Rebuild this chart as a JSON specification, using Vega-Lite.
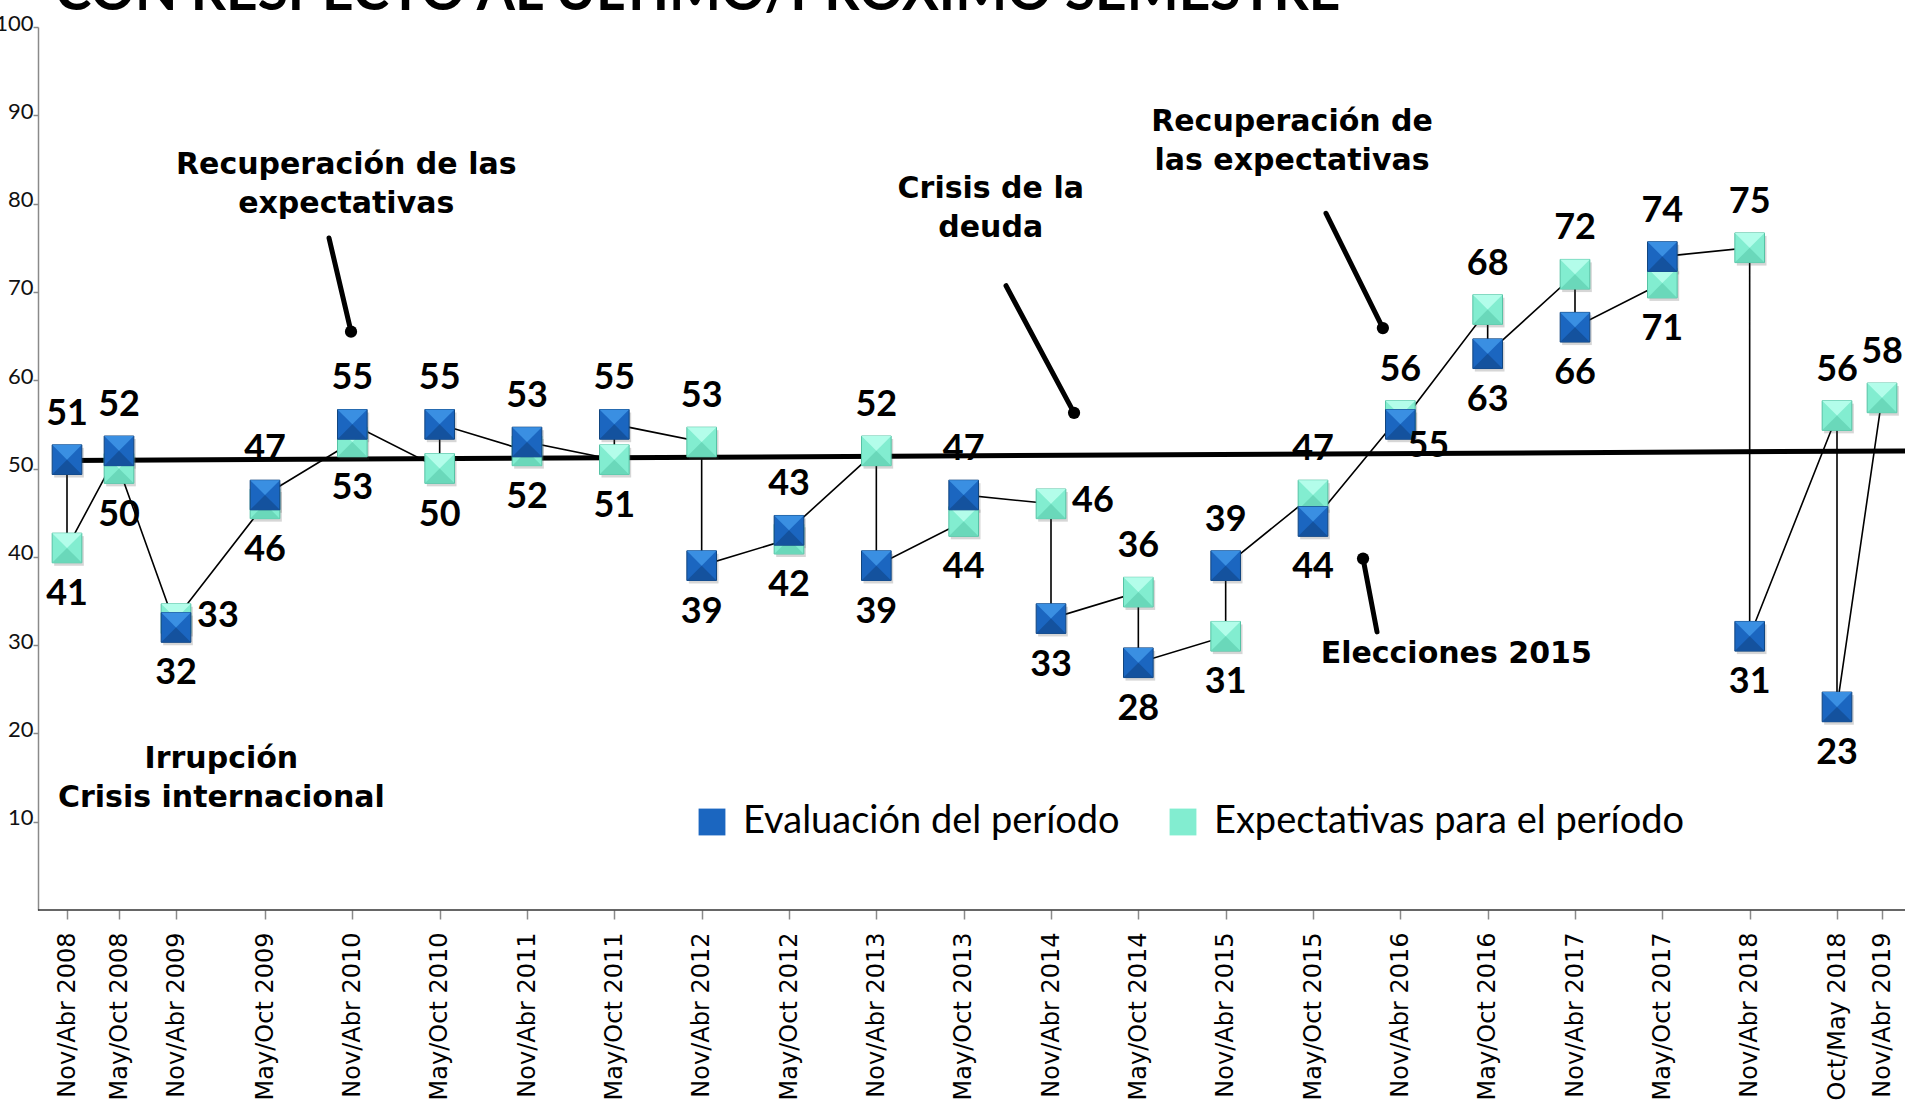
{
  "$schema": "https://vega.github.io/schema/vega-lite/v6.json",
  "width": 1867,
  "height": 883,
  "autosize": {"type": "none"},
  "padding": {"left": 38, "top": 27, "right": 0, "bottom": 197},
  "background": "white",
  "config": {"view": {"stroke": null}, "font": "Lato"},
  "datasets": {
    "puntos": [
      {"n": 1, "periodo": "Nov/Abr 2008", "serie": "Evaluación del período", "valor": 51, "paso": 1},
      {"n": 1, "periodo": "Nov/Abr 2008", "serie": "Expectativas para el período", "valor": 41, "paso": 2},
      {"n": 2, "periodo": "May/Oct 2008", "serie": "Evaluación del período", "valor": 52, "paso": 3},
      {"n": 2, "periodo": "May/Oct 2008", "serie": "Expectativas para el período", "valor": 50, "paso": 4},
      {"n": 3, "periodo": "Nov/Abr 2009", "serie": "Evaluación del período", "valor": 32, "paso": 5},
      {"n": 3, "periodo": "Nov/Abr 2009", "serie": "Expectativas para el período", "valor": 33, "paso": 6},
      {"n": 4, "periodo": "May/Oct 2009", "serie": "Expectativas para el período", "valor": 46, "paso": 7},
      {"n": 4, "periodo": "May/Oct 2009", "serie": "Evaluación del período", "valor": 47, "paso": 8},
      {"n": 5, "periodo": "Nov/Abr 2010", "serie": "Expectativas para el período", "valor": 53, "paso": 9},
      {"n": 5, "periodo": "Nov/Abr 2010", "serie": "Evaluación del período", "valor": 55, "paso": 10},
      {"n": 6, "periodo": "May/Oct 2010", "serie": "Expectativas para el período", "valor": 50, "paso": 11},
      {"n": 6, "periodo": "May/Oct 2010", "serie": "Evaluación del período", "valor": 55, "paso": 12},
      {"n": 7, "periodo": "Nov/Abr 2011", "serie": "Expectativas para el período", "valor": 52, "paso": 13},
      {"n": 7, "periodo": "Nov/Abr 2011", "serie": "Evaluación del período", "valor": 53, "paso": 14},
      {"n": 8, "periodo": "May/Oct 2011", "serie": "Expectativas para el período", "valor": 51, "paso": 15},
      {"n": 8, "periodo": "May/Oct 2011", "serie": "Evaluación del período", "valor": 55, "paso": 16},
      {"n": 9, "periodo": "Nov/Abr 2012", "serie": "Expectativas para el período", "valor": 53, "paso": 17},
      {"n": 9, "periodo": "Nov/Abr 2012", "serie": "Evaluación del período", "valor": 39, "paso": 18},
      {"n": 10, "periodo": "May/Oct 2012", "serie": "Expectativas para el período", "valor": 42, "paso": 19},
      {"n": 10, "periodo": "May/Oct 2012", "serie": "Evaluación del período", "valor": 43, "paso": 20},
      {"n": 11, "periodo": "Nov/Abr 2013", "serie": "Expectativas para el período", "valor": 52, "paso": 21},
      {"n": 11, "periodo": "Nov/Abr 2013", "serie": "Evaluación del período", "valor": 39, "paso": 22},
      {"n": 12, "periodo": "May/Oct 2013", "serie": "Expectativas para el período", "valor": 44, "paso": 23},
      {"n": 12, "periodo": "May/Oct 2013", "serie": "Evaluación del período", "valor": 47, "paso": 24},
      {"n": 13, "periodo": "Nov/Abr 2014", "serie": "Expectativas para el período", "valor": 46, "paso": 25},
      {"n": 13, "periodo": "Nov/Abr 2014", "serie": "Evaluación del período", "valor": 33, "paso": 26},
      {"n": 14, "periodo": "May/Oct 2014", "serie": "Expectativas para el período", "valor": 36, "paso": 27},
      {"n": 14, "periodo": "May/Oct 2014", "serie": "Evaluación del período", "valor": 28, "paso": 28},
      {"n": 15, "periodo": "Nov/Abr 2015", "serie": "Expectativas para el período", "valor": 31, "paso": 29},
      {"n": 15, "periodo": "Nov/Abr 2015", "serie": "Evaluación del período", "valor": 39, "paso": 30},
      {"n": 16, "periodo": "May/Oct 2015", "serie": "Expectativas para el período", "valor": 47, "paso": 31},
      {"n": 16, "periodo": "May/Oct 2015", "serie": "Evaluación del período", "valor": 44, "paso": 32},
      {"n": 17, "periodo": "Nov/Abr 2016", "serie": "Expectativas para el período", "valor": 56, "paso": 33},
      {"n": 17, "periodo": "Nov/Abr 2016", "serie": "Evaluación del período", "valor": 55, "paso": 34},
      {"n": 18, "periodo": "May/Oct 2016", "serie": "Expectativas para el período", "valor": 68, "paso": 35},
      {"n": 18, "periodo": "May/Oct 2016", "serie": "Evaluación del período", "valor": 63, "paso": 36},
      {"n": 19, "periodo": "Nov/Abr 2017", "serie": "Expectativas para el período", "valor": 72, "paso": 37},
      {"n": 19, "periodo": "Nov/Abr 2017", "serie": "Evaluación del período", "valor": 66, "paso": 38},
      {"n": 20, "periodo": "May/Oct 2017", "serie": "Expectativas para el período", "valor": 71, "paso": 39},
      {"n": 20, "periodo": "May/Oct 2017", "serie": "Evaluación del período", "valor": 74, "paso": 40},
      {"n": 21, "periodo": "Nov/Abr 2018", "serie": "Expectativas para el período", "valor": 75, "paso": 41},
      {"n": 21, "periodo": "Nov/Abr 2018", "serie": "Evaluación del período", "valor": 31, "paso": 42},
      {"n": 22, "periodo": "Oct/May 2018", "serie": "Expectativas para el período", "valor": 56, "paso": 43},
      {"n": 22, "periodo": "Oct/May 2018", "serie": "Evaluación del período", "valor": 23, "paso": 44},
      {"n": 23, "periodo": "Nov/Abr 2019", "serie": "Expectativas para el período", "valor": 58, "paso": 45}
    ],
    "notas": [
      {"n": 4.93, "valor": 83.35, "texto": "Recuperación de las\nexpectativas"},
      {"n": 12.31, "valor": 80.6, "texto": "Crisis de la\ndeuda"},
      {"n": 15.76, "valor": 88.2, "texto": "Recuperación de\nlas expectativas"},
      {"n": 17.64, "valor": 28.0, "texto": "Elecciones 2015"},
      {"n": 3.51, "valor": 16.1, "texto": "Irrupción\nCrisis internacional"}
    ],
    "flechas": [
      {"n": 4.733, "valor": 76.1, "n2": 4.985, "valor2": 65.5},
      {"n": 12.485, "valor": 70.7, "n2": 13.264, "valor2": 56.3},
      {"n": 16.149, "valor": 78.9, "n2": 16.8, "valor2": 65.9},
      {"n": 16.733, "valor": 31.5, "n2": 16.573, "valor2": 39.8}
    ],
    "tendencia": [
      {"n": 1, "valor": 50.9},
      {"n": 24, "valor": 52.0}
    ],
    "ejex": [
      {"n": 0.4423, "n2": 24, "valor": 0}
    ],
    "titulo": [
      {"n": 0.769, "valor": 101.9, "texto": "CON RESPECTO AL ÚLTIMO/PRÓXIMO SEMESTRE"}
    ]
  },
  "data": {"name": "puntos"},
  "encoding": {
    "x": {
      "field": "n",
      "type": "quantitative",
      "scale": {"domain": [1, 2, 3, 4, 22, 23], "range": [29, 81, 138, 227, 1799, 1844], "zero": false, "nice": false},
      "axis": {
        "values": [0.4423, 1, 2, 3, 4, 5, 6, 7, 8, 9, 10, 11, 12, 13, 14, 15, 16, 17, 18, 19, 20, 21, 22, 23],
        "labelExpr": "datum.value < 1 ? '' : ['Nov/Abr 2008','May/Oct 2008','Nov/Abr 2009','May/Oct 2009','Nov/Abr 2010','May/Oct 2010','Nov/Abr 2011','May/Oct 2011','Nov/Abr 2012','May/Oct 2012','Nov/Abr 2013','May/Oct 2013','Nov/Abr 2014','May/Oct 2014','Nov/Abr 2015','May/Oct 2015','Nov/Abr 2016','May/Oct 2016','Nov/Abr 2017','May/Oct 2017','Nov/Abr 2018','Oct/May 2018','Nov/Abr 2019'][round(datum.value) - 1]",
        "labelAngle": -90,
        "labelAlign": "right",
        "labelBaseline": "middle",
        "labelFont": "DejaVu Sans",
        "labelFontSize": 24,
        "labelColor": "#000000",
        "labelPadding": 13,
        "labelOverlap": false,
        "labelFlush": false,
        "labelLimit": 0,
        "tickSize": 9,
        "tickColor": "#8a8a8a",
        "tickWidth": 1.5,
        "domain": false,
        "grid": false,
        "title": null
      }
    },
    "y": {
      "field": "valor",
      "type": "quantitative",
      "scale": {"domain": [0, 100], "zero": false, "nice": false},
      "axis": {
        "values": [10, 20, 30, 40, 50, 60, 70, 80, 90, 100],
        "labelFont": "Lato",
        "labelFontSize": 22,
        "labelColor": "#111111",
        "labelPadding": 0,
        "labelOffset": -4,
        "tickSize": 5,
        "tickColor": "#8a8a8a",
        "tickWidth": 1.5,
        "domainColor": "#8a8a8a",
        "domainWidth": 1.5,
        "grid": false,
        "title": null
      }
    }
  },
  "layer": [
    {
      "data": {"name": "ejex"},
      "mark": {"type": "rule", "color": "#333333", "strokeWidth": 1.5},
      "encoding": {"x2": {"field": "n2"}}
    },
    {
      "data": {"name": "tendencia"},
      "mark": {"type": "line", "color": "#000000", "strokeWidth": 5}
    },
    {
      "mark": {"type": "line", "color": "#000000", "strokeWidth": 1.6},
      "encoding": {"order": {"field": "paso", "type": "quantitative"}}
    },
    {
      "mark": {"type": "point", "shape": "square", "size": 880, "filled": true, "color": "#444444", "opacity": 0.22, "xOffset": 2, "yOffset": 3}
    },
    {
      "transform": [{"filter": "datum.serie == 'Expectativas para el período'"}],
      "mark": {"type": "point", "shape": "square", "size": 880, "filled": true, "opacity": 1, "stroke": "#56c2a4", "strokeWidth": 1},
      "encoding": {
        "color": {
          "field": "serie",
          "type": "nominal",
          "scale": {"domain": ["Evaluación del período", "Expectativas para el período"], "range": ["#1b66c0", "#82edd0"]},
          "legend": {
            "orient": "none",
            "legendX": 655,
            "legendY": 776,
            "direction": "horizontal",
            "title": null,
            "symbolType": "square",
            "symbolSize": 720,
            "symbolStrokeWidth": 0,
            "symbolOpacity": 1,
            "labelFont": "Lato",
            "labelFontSize": 38,
            "labelColor": "#000000",
            "labelOffset": 12,
            "labelLimit": 0,
            "columnPadding": 44,
            "padding": 0
          }
        }
      }
    },
    {
      "transform": [{"filter": "datum.serie == 'Expectativas para el período'"}],
      "mark": {"type": "point", "shape": "M-1,-1L1,-1L0,0Z", "size": 880, "filled": true, "opacity": 1, "color": "#b3fdea"}
    },
    {
      "transform": [{"filter": "datum.serie == 'Expectativas para el período'"}],
      "mark": {"type": "point", "shape": "M-1,1L1,1L0,0Z", "size": 880, "filled": true, "opacity": 1, "color": "#6ad8ba"}
    },
    {
      "transform": [{"filter": "datum.serie == 'Evaluación del período'"}],
      "mark": {"type": "point", "shape": "square", "size": 880, "filled": true, "opacity": 1, "stroke": "#11457f", "strokeWidth": 1},
      "encoding": {
        "color": {
          "field": "serie",
          "type": "nominal",
          "scale": {"domain": ["Evaluación del período", "Expectativas para el período"], "range": ["#1b66c0", "#82edd0"]}
        }
      }
    },
    {
      "transform": [{"filter": "datum.serie == 'Evaluación del período'"}],
      "mark": {"type": "point", "shape": "M-1,-1L1,-1L0,0Z", "size": 880, "filled": true, "opacity": 1, "color": "#3a8fe2"}
    },
    {
      "transform": [{"filter": "datum.serie == 'Evaluación del período'"}],
      "mark": {"type": "point", "shape": "M-1,1L1,1L0,0Z", "size": 880, "filled": true, "opacity": 1, "color": "#14529e"}
    },
    {
      "transform": [
        {"joinaggregate": [{"op": "max", "field": "valor", "as": "maximo"}], "groupby": ["periodo"]},
        {"filter": "datum.valor == datum.maximo && datum.n != 3 && datum.n != 13"}
      ],
      "mark": {"type": "text", "font": "Lato", "fontWeight": "bold", "fontSize": 36, "color": "#000000", "align": "center", "baseline": "middle", "dy": -46},
      "encoding": {"text": {"field": "valor", "type": "quantitative"}}
    },
    {
      "transform": [
        {"joinaggregate": [{"op": "max", "field": "valor", "as": "maximo"}], "groupby": ["periodo"]},
        {"filter": "datum.valor < datum.maximo && datum.n != 17"}
      ],
      "mark": {"type": "text", "font": "Lato", "fontWeight": "bold", "fontSize": 36, "color": "#000000", "align": "center", "baseline": "middle", "dy": 46},
      "encoding": {"text": {"field": "valor", "type": "quantitative"}}
    },
    {
      "transform": [
        {"joinaggregate": [{"op": "max", "field": "valor", "as": "maximo"}], "groupby": ["periodo"]},
        {"filter": "datum.valor == datum.maximo && (datum.n == 3 || datum.n == 13)"}
      ],
      "mark": {"type": "text", "font": "Lato", "fontWeight": "bold", "fontSize": 36, "color": "#000000", "align": "left", "baseline": "middle", "dx": 21, "dy": -3},
      "encoding": {"text": {"field": "valor", "type": "quantitative"}}
    },
    {
      "transform": [
        {"joinaggregate": [{"op": "max", "field": "valor", "as": "maximo"}], "groupby": ["periodo"]},
        {"filter": "datum.valor < datum.maximo && datum.n == 17"}
      ],
      "mark": {"type": "text", "font": "Lato", "fontWeight": "bold", "fontSize": 36, "color": "#000000", "align": "center", "baseline": "middle", "dx": 28, "dy": 22},
      "encoding": {"text": {"field": "valor", "type": "quantitative"}}
    },
    {
      "data": {"name": "notas"},
      "mark": {"type": "text", "font": "DejaVu Sans", "fontWeight": "bold", "fontSize": 30, "color": "#000000", "align": "center", "baseline": "alphabetic", "lineBreak": "\n", "lineHeight": 39},
      "encoding": {"text": {"field": "texto", "type": "nominal"}}
    },
    {
      "data": {"name": "flechas"},
      "mark": {"type": "rule", "color": "#000000", "strokeWidth": 5, "strokeCap": "round"},
      "encoding": {"x2": {"field": "n2"}, "y2": {"field": "valor2"}}
    },
    {
      "data": {"name": "flechas"},
      "mark": {"type": "point", "shape": "circle", "size": 150, "filled": true, "color": "#000000", "opacity": 1},
      "encoding": {"x": {"field": "n2", "type": "quantitative"}, "y": {"field": "valor2", "type": "quantitative"}}
    },
    {
      "data": {"name": "titulo"},
      "mark": {"type": "text", "font": "Lato", "fontWeight": "bold", "fontSize": 55, "color": "#000000", "align": "left", "baseline": "alphabetic"},
      "encoding": {"text": {"field": "texto", "type": "nominal"}}
    }
  ]
}
